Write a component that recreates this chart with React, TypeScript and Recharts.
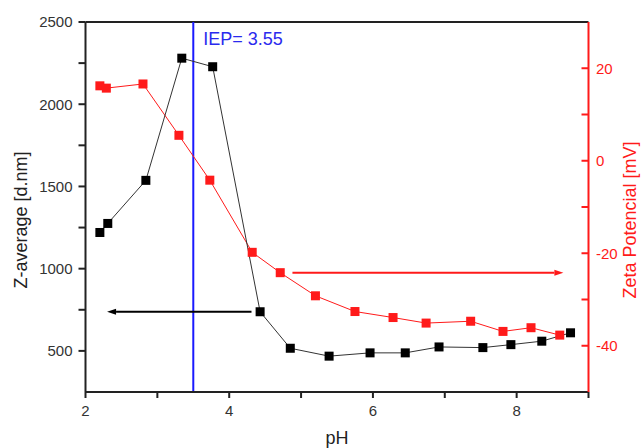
import React from 'react';
import { LineChart, Line, XAxis, YAxis, ReferenceLine } from 'recharts';

// Z-average (black, left axis)
const phZ = [2.2, 2.31, 2.84, 3.34, 3.77, 4.43, 4.85, 5.39, 5.96, 6.45, 6.92, 7.53, 7.92, 8.35, 8.75];
const zAverage = [1220, 1275, 1537, 2280, 2228, 738, 516, 468, 488, 488, 524, 520, 538, 559, 610];

// Zeta potential (red, right axis)
const phZeta = [2.2, 2.29, 2.8, 3.3, 3.73, 4.32, 4.71, 5.2, 5.75, 6.28, 6.74, 7.36, 7.81, 8.2, 8.6];
const zeta = [16.2, 15.7, 16.6, 5.5, -4.2, -19.8, -24.2, -29.2, -32.6, -33.9, -35.1, -34.7, -36.9, -36.1, -37.7];

const xTicks = [2, 3, 4, 5, 6, 7, 8, 9];
const leftTicks = [500, 750, 1000, 1250, 1500, 1750, 2000, 2250, 2500];
const rightTicks = [-40, -30, -20, -10, 0, 10, 20];

const iepPosition = 3.5;
const iepLabel = 'IEP= 3.55';

// arrows: [x start, x end, y]
const blackArrow = [4.31, 2.3, 738];
const redArrow = [4.88, 8.65, -24.2];

const zData = phZ.map((ph, i) => ({ ph, z: zAverage[i] }));
const zetaData = phZeta.map((ph, i) => ({ ph, zeta: zeta[i] }));

const FONT = '"Liberation Sans", Arial, sans-serif';
const RED = '#ff1a1a';

const squareDot = (fill: string) => (props: any) => {
  const { cx, cy, index } = props;
  if (cx == null || cy == null) return <g key={index} />;
  return <rect key={index} x={cx - 4.5} y={cy - 4.5} width={9} height={9} fill={fill} />;
};

const arrowShape = (color: string) => (props: any) => {
  const { x1, y1, x2, y2 } = props;
  const dir = x2 > x1 ? 1 : -1;
  const len = 9;
  const half = 3;
  return (
    <g>
      <line x1={x1} y1={y1} x2={x2 - dir * len} y2={y2} stroke={color} strokeWidth={2} />
      <polygon
        points={`${x2},${y2} ${x2 - dir * len},${y2 - half} ${x2 - dir * len},${y2 + half}`}
        fill={color}
      />
    </g>
  );
};

const App: React.FC = () => {
  return (
    <div style={{ position: 'absolute', left: 0, top: 0, background: '#fff' }}>
      <LineChart
        width={641}
        height={448}
        margin={{ top: 22, right: 0, bottom: 0, left: 0 }}
        style={{ fontFamily: FONT }}
      >
        <XAxis
          dataKey="ph"
          type="number"
          domain={[2, 9]}
          ticks={xTicks}
          allowDataOverflow
          height={56}
          stroke="#222"
          strokeWidth={2}
          tickSize={6}
          tickMargin={7}
          tick={{ fill: '#333', fontSize: 15 }}
          tickFormatter={(v) => (v % 2 === 0 ? String(v) : '')}
          label={{ value: 'pH', position: 'center', dy: 18, fill: '#222', fontSize: 18 }}
        />
        <YAxis
          yAxisId="left"
          dataKey="z"
          domain={[250, 2500]}
          ticks={leftTicks}
          allowDataOverflow
          width={85.5}
          stroke="#222"
          strokeWidth={2}
          tickSize={7}
          tickMargin={6}
          tick={{ fill: '#333', fontSize: 15 }}
          tickFormatter={(v) => (v % 500 === 0 ? String(v) : '')}
          label={{ value: 'Z-average [d.nm]', angle: -90, position: 'center', dx: -22, dy: 13, fill: '#222', fontSize: 18 }}
        />
        <YAxis
          yAxisId="right"
          orientation="right"
          dataKey="zeta"
          domain={[-50, 30]}
          ticks={rightTicks}
          allowDataOverflow
          width={52.5}
          stroke={RED}
          strokeWidth={2}
          tickSize={-7}
          tickMargin={14.5}
          tick={{ fill: RED, fontSize: 15 }}
          tickFormatter={(v) => (v % 20 === 0 ? String(v) : '')}
          label={{ value: 'Zeta Potencial [mV]', angle: -90, position: 'center', dx: 15, dy: 13, fill: RED, fontSize: 18 }}
        />
        <ReferenceLine yAxisId="left" y={2500} stroke="#222" strokeWidth={2} />
        <ReferenceLine
          yAxisId="left"
          x={iepPosition}
          stroke="#1a1aff"
          strokeWidth={2}
          label={{ value: iepLabel, position: 'insideTopLeft', offset: 10, fill: '#2a2aee', fontSize: 18 }}
        />
        <ReferenceLine
          yAxisId="left"
          segment={[
            { x: blackArrow[0], y: blackArrow[2] },
            { x: blackArrow[1], y: blackArrow[2] },
          ]}
          shape={arrowShape('#000')}
        />
        <ReferenceLine
          yAxisId="right"
          segment={[
            { x: redArrow[0], y: redArrow[2] },
            { x: redArrow[1], y: redArrow[2] },
          ]}
          shape={arrowShape(RED)}
        />
        <Line
          yAxisId="right"
          data={zetaData}
          dataKey="zeta"
          type="linear"
          stroke={RED}
          strokeWidth={1}
          dot={squareDot(RED)}
          activeDot={false}
          isAnimationActive={false}
        />
        <Line
          yAxisId="left"
          data={zData}
          dataKey="z"
          type="linear"
          stroke="#333"
          strokeWidth={1}
          dot={squareDot('#000')}
          activeDot={false}
          isAnimationActive={false}
        />
      </LineChart>
    </div>
  );
};

export default App;
